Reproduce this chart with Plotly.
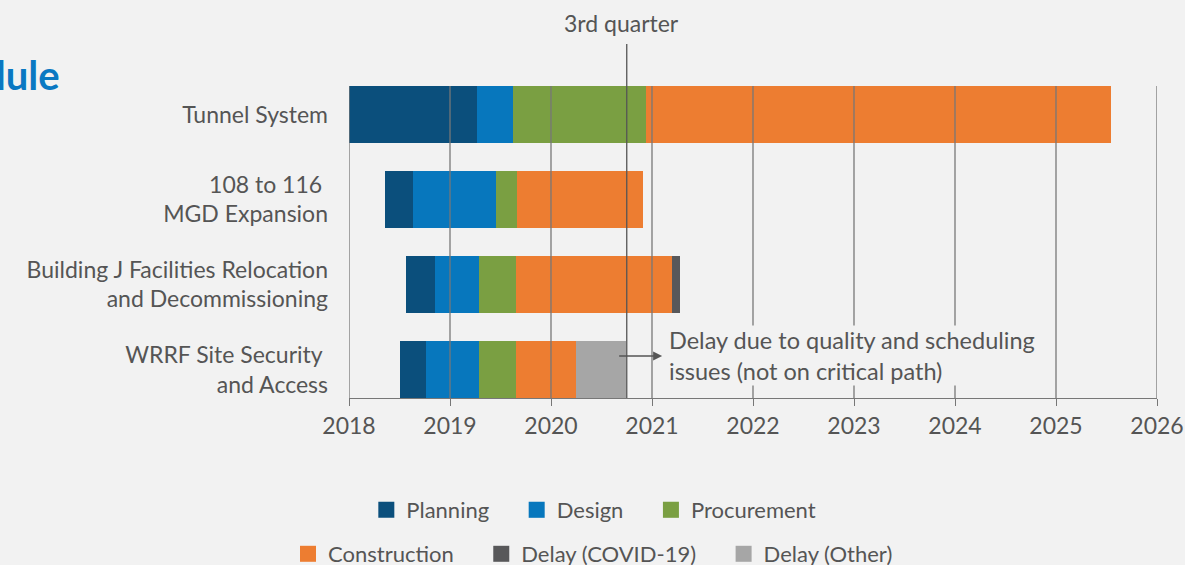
import plotly.graph_objects as go

# projects top to bottom
projects = [
    "Tunnel System",
    "108 to 116 <br>MGD Expansion",
    "Building J Facilities Relocation<br>and Decommissioning",
    "WRRF Site Security <br>and Access",
]

# phase start (first phase) and phase end dates, in decimal years
start = [2018.0, 2018.36, 2018.56, 2018.50]
planning_end = [2019.27, 2018.63, 2018.85, 2018.76]
design_end = [2019.62, 2019.46, 2019.29, 2019.29]
procurement_end = [2020.94, 2019.66, 2019.65, 2019.65]
construction_end = [2025.54, 2020.91, 2021.20, 2020.25]
covid_end = [None, None, 2021.28, None]
other_end = [None, None, None, 2020.74]

phases = ["Planning", "Design", "Procurement", "Construction",
          "Delay (COVID-19)", "Delay (Other)"]
colors = ["#0b4f7c", "#0777bd", "#7a9f42", "#ed7d31", "#58585a", "#a6a6a6"]

years = list(range(2018, 2027))
third_quarter = 2020.75

FONT = "Lato"
TXT = "#555555"
BG = "#f2f2f2"
PAD = "\u00a0" * 4  # extra room between legend entries

fig = go.Figure()

ends = [planning_end, design_end, procurement_end, construction_end, covid_end, other_end]
prev = start
for i, (name, col, end) in enumerate(zip(phases, colors, ends)):
    base, length, ys = [], [], []
    for k in range(len(projects)):
        if end[k] is None:
            continue
        base.append(prev[k])
        length.append(end[k] - prev[k])
        ys.append(k)
    fig.add_trace(go.Bar(
        x=length, y=ys, base=base, orientation="h", width=0.67,
        marker=dict(color=col, line=dict(width=0)),
        name=name, showlegend=False, hoverinfo="skip",
    ))
    # legend entry with a bigger square swatch
    last_in_row = i in (2, 5)
    fig.add_trace(go.Scatter(
        x=[None], y=[None], mode="markers", name=name + ("" if last_in_row else PAD),
        marker=dict(symbol="square", size=20, color=col),
        legend="legend" if i < 3 else "legend2",
    ))
    prev = [e if e is not None else p for e, p in zip(end, prev)]

# grid lines drawn on top of the bars
for yr in years:
    fig.add_shape(type="line", xref="x", yref="paper", x0=yr, x1=yr, y0=0, y1=1,
                  line=dict(color="#777777", width=1.3), layer="above")
fig.add_shape(type="line", xref="x", yref="paper", x0=third_quarter, x1=third_quarter,
              y0=0, y1=1.135, line=dict(color="#555555", width=1.3), layer="above")

fig.add_annotation(x=third_quarter, xref="x", y=1.135, yref="paper", yanchor="bottom",
                   text="3rd quarter", showarrow=False, yshift=5, xshift=-5,
                   font=dict(family=FONT, size=23, color=TXT))

fig.add_annotation(x=2021.10, y=2.84, ax=2020.66, ay=2.84, axref="x", ayref="y",
                   xref="x", yref="y", text="", showarrow=True, arrowhead=2,
                   arrowsize=1.2, arrowwidth=1.5, arrowcolor="#555555")
fig.add_annotation(x=2021.16, y=2.84, xref="x", yref="y", xanchor="left", yanchor="middle",
                   align="left", showarrow=False, bgcolor=BG, borderpad=0,
                   text="Delay due to quality and scheduling<br>issues (not on critical path)",
                   font=dict(family=FONT, size=23.5, color=TXT))

# page title, cut off at the left edge as in the source
fig.add_annotation(x=(62 - 349) / 808, xref="paper", y=(398 - 75) / 312, yref="paper",
                   text="<b>Schedule</b>", showarrow=False, xanchor="right", yanchor="middle",
                   font=dict(family=FONT, size=40, color="#0a78c2"))

fig.update_layout(
    width=1185, height=565,
    margin=dict(l=349, r=28, t=86, b=167, autoexpand=False),
    paper_bgcolor=BG, plot_bgcolor=BG,
    barmode="overlay", bargap=0,
    font=dict(family=FONT, size=23, color=TXT),
    xaxis=dict(range=[2018, 2026], tickvals=years, showgrid=False, zeroline=False,
               showline=True, linecolor="#777777", linewidth=1.3,
               ticks="outside", ticklen=7, tickcolor="#777777", tickwidth=1.3,
               tickfont=dict(family=FONT, size=23, color=TXT)),
    yaxis=dict(range=[3.335, -0.335], tickvals=list(range(len(projects))), ticktext=projects,
               showgrid=False, zeroline=False, showline=False, ticks="",
               ticklabelstandoff=20, tickfont=dict(family=FONT, size=23, color=TXT)),
    legend=dict(orientation="h", x=0.303, xanchor="center", y=-0.359, yanchor="middle",
                font=dict(family=FONT, size=22, color=TXT), bgcolor="rgba(0,0,0,0)"),
    legend2=dict(orientation="h", x=0.302, xanchor="center", y=-0.50, yanchor="middle",
                 font=dict(family=FONT, size=22, color=TXT), bgcolor="rgba(0,0,0,0)"),
    showlegend=True,
)

fig.write_html("out.html", config={"displayModeBar": False},
               post_script="document.body.style.margin='0';")
